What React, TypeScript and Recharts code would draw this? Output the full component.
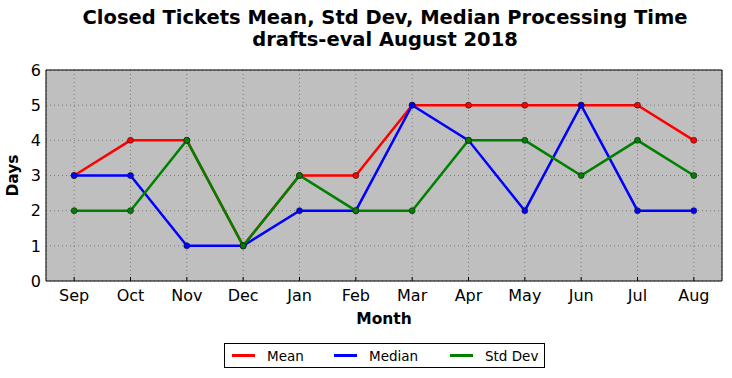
import React from 'react';
import { LineChart, Line, XAxis, YAxis, CartesianGrid, Label } from 'recharts';

const months = ['Sep', 'Oct', 'Nov', 'Dec', 'Jan', 'Feb', 'Mar', 'Apr', 'May', 'Jun', 'Jul', 'Aug'];
const meanValues = [3, 4, 4, 1, 3, 3, 5, 5, 5, 5, 5, 4];
const medianValues = [3, 3, 1, 1, 2, 2, 5, 4, 2, 5, 2, 2];
const stdDevValues = [2, 2, 4, 1, 3, 2, 2, 4, 4, 3, 4, 3];
const yTicks = [0, 1, 2, 3, 4, 5, 6];

const data = months.map((m, i) => ({
  idx: i,
  month: m,
  mean: meanValues[i],
  median: medianValues[i],
  std: stdDevValues[i],
}));

const FONT = '"DejaVu Sans", sans-serif';
const xTicks = months.map((_, i) => i);

const series = [
  { key: 'mean', name: 'Mean', color: '#ff0000' },
  { key: 'median', name: 'Median', color: '#0000ff' },
  { key: 'std', name: 'Std Dev', color: '#008000' },
];

export default function App() {
  return (
    <div style={{ position: 'absolute', left: 0, top: 0, width: 732, height: 378, background: '#fff', fontFamily: FONT }}>
      <div style={{ position: 'absolute', left: 0, top: 7, width: 770, textAlign: 'center', fontWeight: 'bold', fontSize: 19.5, lineHeight: '22px', color: '#000' }}>
        Closed Tickets Mean, Std Dev, Median Processing Time
        <br />
        drafts-eval August 2018
      </div>
      <LineChart width={732} height={378} data={data} margin={{ top: 70, right: 10, left: 0, bottom: 0 }}>
        <CartesianGrid fill="#bfbfbf" stroke="#7a7a7a" strokeDasharray="1 3" />
        <XAxis
          dataKey="idx"
          type="number"
          domain={[-0.5, 11.5]}
          ticks={xTicks}
          tickFormatter={(v) => months[v]}
          height={97}
          tickLine={false}
          tickSize={0}
          tickMargin={9}
          axisLine={{ stroke: '#000', strokeWidth: 1 }}
          tick={{ fill: '#000', fontSize: 16, fontFamily: FONT }}
          interval={0}
        >
          <Label value="Month" position="insideTop" offset={32} style={{ fontWeight: 'bold', fontSize: 15.5, fill: '#000', fontFamily: FONT }} />
        </XAxis>
        <XAxis
          xAxisId="top"
          dataKey="idx"
          type="number"
          orientation="top"
          mirror
          domain={[-0.5, 11.5]}
          ticks={xTicks}
          tickSize={4}
          tick={false}
          axisLine={{ stroke: '#000', strokeWidth: 1 }}
          tickLine={{ stroke: '#000' }}
        />
        <XAxis
          xAxisId="bm"
          dataKey="idx"
          type="number"
          orientation="bottom"
          mirror
          domain={[-0.5, 11.5]}
          ticks={xTicks}
          tickSize={4}
          tick={{ fill: 'none' }}
          axisLine={false}
          tickLine={{ stroke: '#000' }}
        />
        <YAxis
          type="number"
          domain={[0, 6]}
          ticks={yTicks}
          width={46}
          tickLine={false}
          tickSize={0}
          tickMargin={5}
          axisLine={{ stroke: '#000', strokeWidth: 1 }}
          tick={{ fill: '#000', fontSize: 16, fontFamily: FONT }}
          interval={0}
        >
          <Label value="Days" angle={-90} position="insideLeft" offset={12} style={{ fontWeight: 'bold', fontSize: 15.5, fill: '#000', fontFamily: FONT, textAnchor: 'middle' }} />
        </YAxis>
        <YAxis
          yAxisId="lm"
          type="number"
          orientation="left"
          mirror
          domain={[0, 6]}
          ticks={yTicks}
          tickSize={4}
          tick={{ fill: 'none' }}
          axisLine={false}
          tickLine={{ stroke: '#000' }}
        />
        <YAxis
          yAxisId="right"
          type="number"
          orientation="right"
          mirror
          domain={[0, 6]}
          ticks={yTicks}
          tickSize={4}
          tick={{ fill: 'none' }}
          axisLine={{ stroke: '#000', strokeWidth: 1 }}
          tickLine={{ stroke: '#000' }}
        />
        {series.map((s) => (
          <Line
            key={s.key}
            dataKey={s.key}
            name={s.name}
            type="linear"
            stroke={s.color}
            strokeWidth={2.5}
            dot={{ r: 3, fill: s.color, stroke: '#1a1a1a', strokeWidth: 0.6 }}
            activeDot={false}
            isAnimationActive={false}
          />
        ))}
      </LineChart>
      <div style={{ position: 'absolute', left: 224, top: 343, width: 319, height: 23, border: '1px solid #000', background: '#fff' }}>
        {series.map((s, i) => (
          <div key={s.key} style={{ position: 'absolute', left: [7, 109, 225][i], top: 0, height: 23, display: 'flex', alignItems: 'center' }}>
            <div style={{ width: 23, height: 2.5, background: s.color }} />
            <span style={{ marginLeft: 12, fontSize: 13.5, color: '#000' }}>{s.name}</span>
          </div>
        ))}
      </div>
    </div>
  );
}
